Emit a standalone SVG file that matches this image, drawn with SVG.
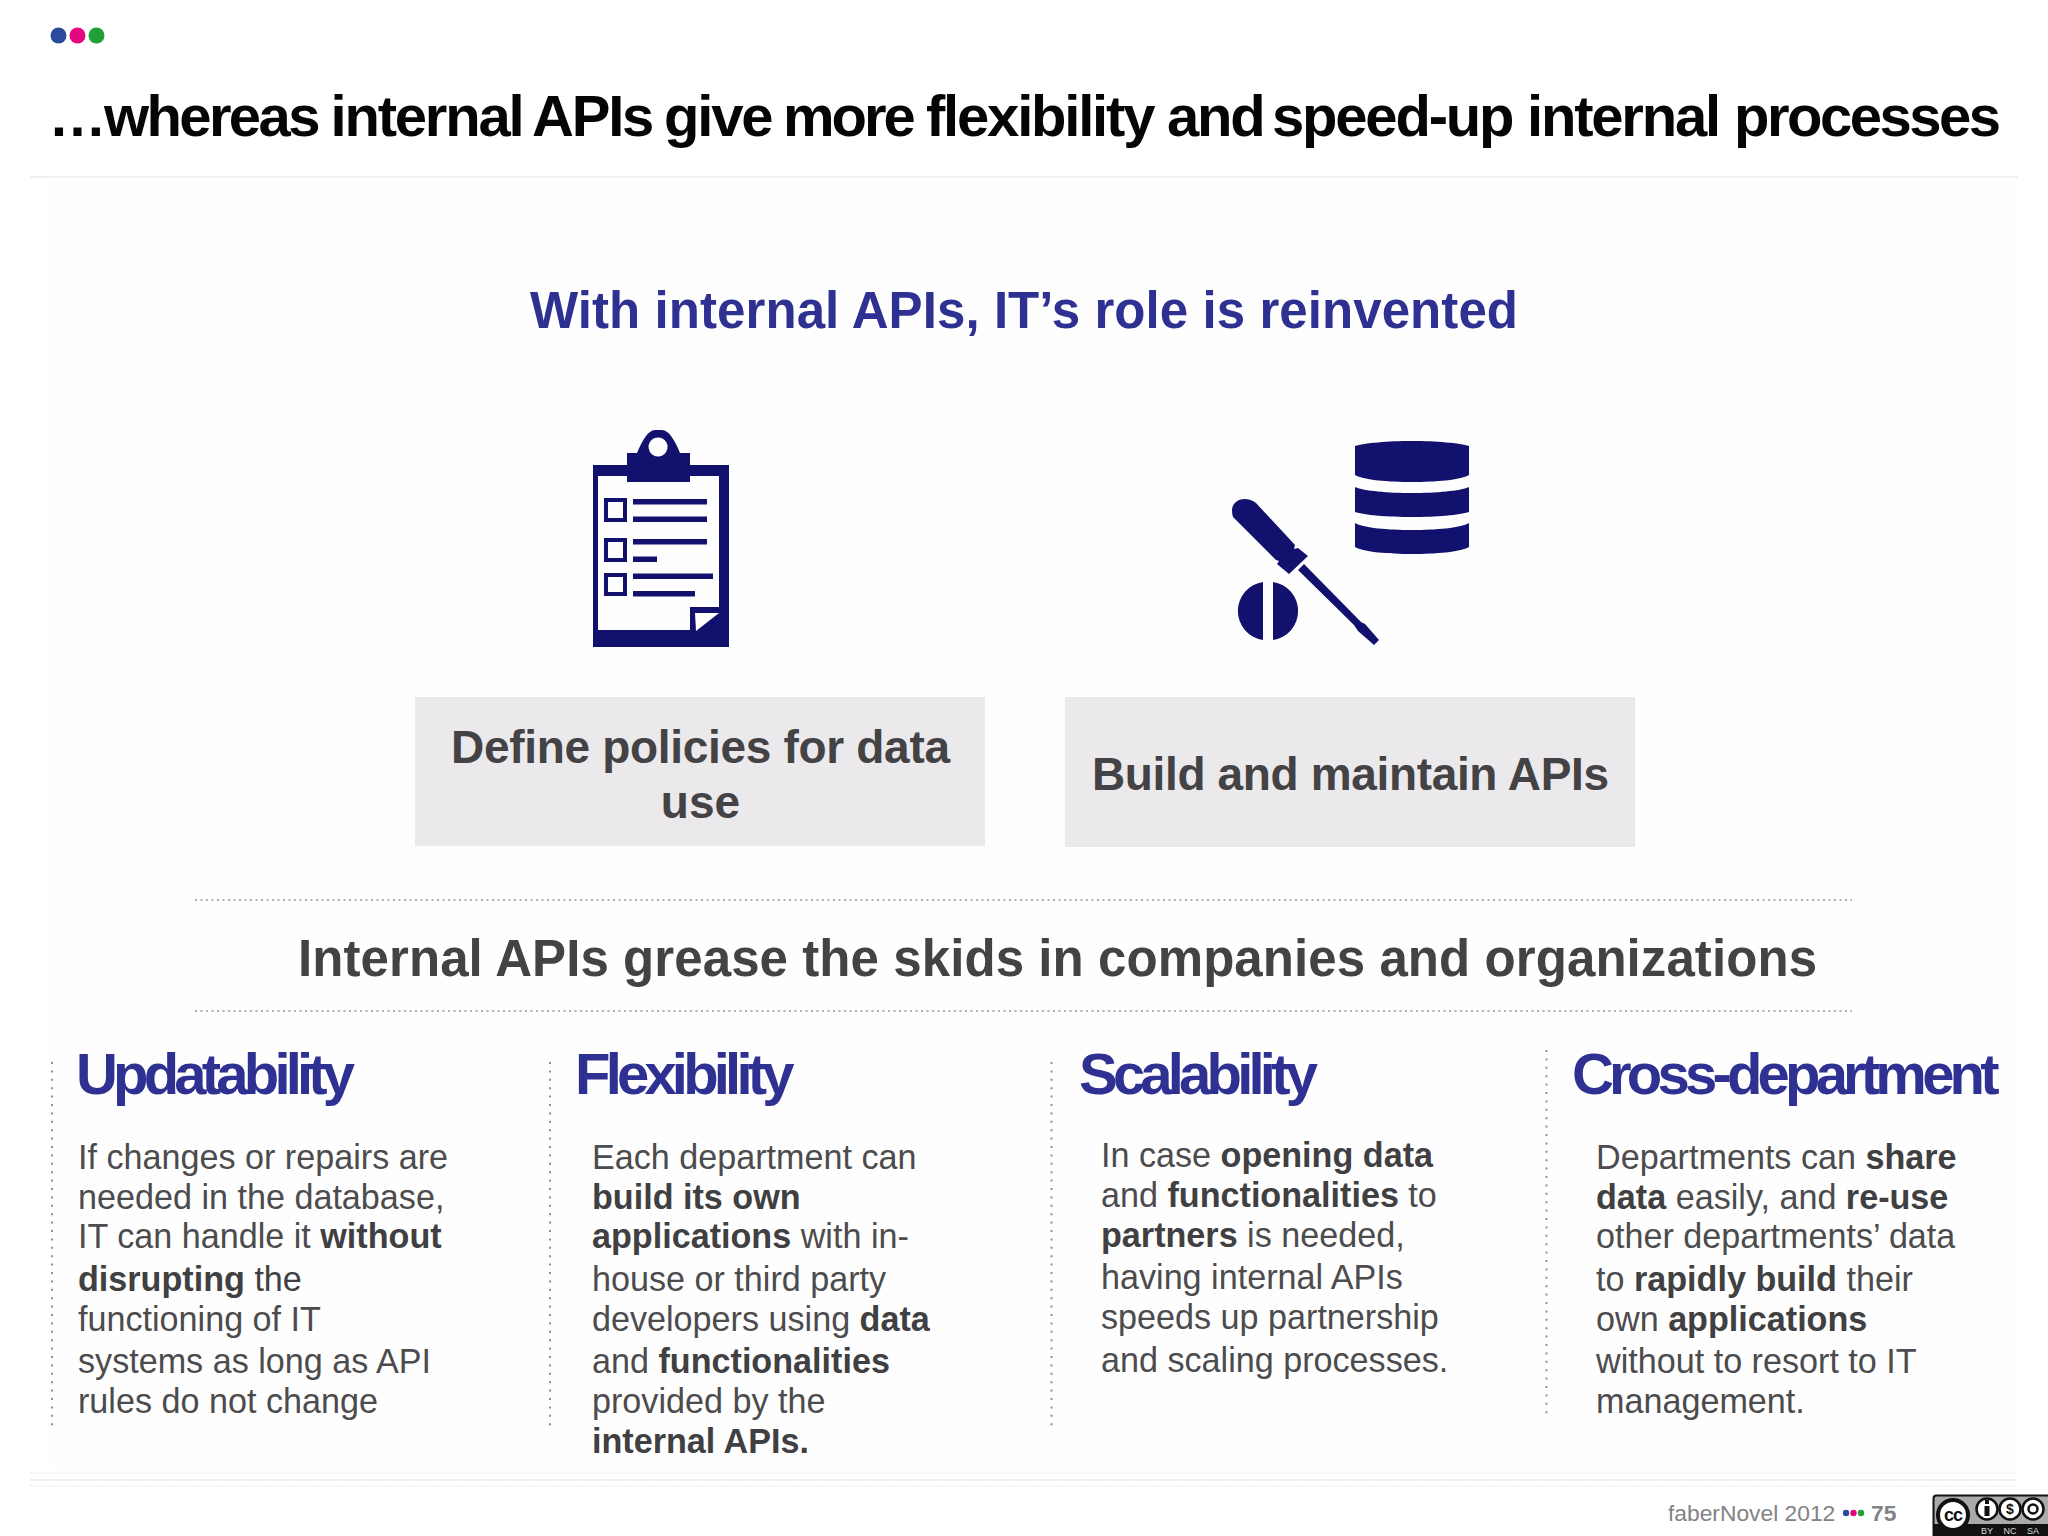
<svg xmlns="http://www.w3.org/2000/svg" width="2048" height="1536" viewBox="0 0 2048 1536">
<style>
text{font-family:"Liberation Sans",Arial,sans-serif}
.b{font-size:34.15px;fill:#4c4b4d}
.b tspan.s{font-weight:700;fill:#403f41}
.h{font-size:58px;font-weight:700;fill:#2e3092;letter-spacing:-4.8px}
.d{stroke:#b0b0b0;stroke-width:2;stroke-dasharray:2 3.500;fill:none}
.v{stroke:#8f8f8f;stroke-width:2;stroke-dasharray:2 6.400;fill:none}
.i{fill:#12126e}
.f{font-size:22.8px;fill:#838285}
</style>
<rect width="2048" height="1536" fill="#fff"/>
<rect x="50" y="180" width="1970" height="1290" fill="#fefefe"/>
<g id="logo"><circle cx="58.500" cy="35.500" r="8" fill="#2a4b9b"/><circle cx="77.500" cy="35.500" r="8" fill="#e4067e"/><circle cx="96.500" cy="35.500" r="8" fill="#21a038"/></g>
<text id="title" x="48.500" y="136" font-size="58" font-weight="700" fill="#050505" letter-spacing="-2.2"><tspan letter-spacing="-2.6">…whereas </tspan><tspan x="330.500">internal </tspan><tspan x="532">APIs </tspan><tspan x="664">give </tspan><tspan x="783" letter-spacing="-3">more </tspan><tspan x="926">flexibility </tspan><tspan x="1167">and </tspan><tspan x="1272">speed-up </tspan><tspan x="1527">internal </tspan><tspan x="1734" letter-spacing="-2.5">processes</tspan></text>
<line x1="30" y1="177" x2="2018" y2="177" stroke="#eeeef0" stroke-width="1.500"/>
<text x="1024" y="328" text-anchor="middle" font-size="51" font-weight="700" fill="#2e3092" textLength="988" lengthAdjust="spacing">With internal APIs, IT’s role is reinvented</text>

<g id="clipboard" class="i">
<path fill-rule="evenodd" d="M593 465h34v-12h10C642 441 648 430 655 430H662C669 430 675 441 680 453h10v12h39v182h-136zM598 476v154h92v-23h29v-131h-29v6h-63v-6zM658 437.500a9.500 9.500 0 1 0 .1 0z"/>
<path d="M695 613H719L696 631z" fill="#fff"/>
<path fill-rule="evenodd" d="M604 498h23v24h-23zM608 502v16h15v-16zM604 538h23v24h-23zM608 542v16h15v-16zM604 573h23v23h-23zM608 577v15h15v-15z"/>
<rect x="633" y="499" width="74" height="5.500"/><rect x="633" y="516.500" width="74" height="5.500"/><rect x="633" y="539" width="74" height="5.500"/><rect x="633" y="556.500" width="24" height="5.500"/><rect x="633" y="573.500" width="80" height="5.500"/><rect x="633" y="591" width="62" height="5.500"/>
</g>

<g id="tools" class="i">
<path d="M1355 446C1364 443 1388 441 1412 441S1460 443 1469 446V475C1460 480 1436 482 1412 482S1364 480 1355 475z"/>
<path d="M1355 487C1364 491 1388 493 1412 493S1460 491 1469 487V512C1460 515 1436 517 1412 517S1364 515 1355 512z"/>
<path d="M1355 523C1364 528 1388 530 1412 530S1460 528 1469 523V547C1460 552 1436 554 1412 554S1364 552 1355 547z"/>
<path d="M1233 517C1231 510 1232 505 1236 502C1240 498 1250 498 1256 503L1295 545L1294 549L1298 548L1308 556L1289 574L1277 564L1279 561L1276 560z"/>
<path d="M1298 570L1304 564L1361 622L1365 624L1379 640L1374 645L1358 631L1354 625z"/>
<path d="M1263 582A29.300 29.300 0 0 0 1263 640zM1273 582A29.300 29.300 0 0 1 1273 640z"/>
</g>

<g id="box1"><rect x="415" y="697" width="570" height="149" fill="#ebe9ec"/>
<text x="700.500" y="763" text-anchor="middle" font-size="46" font-weight="700" fill="#434244" textLength="499" lengthAdjust="spacing">Define policies for data</text>
<text x="700.500" y="818" text-anchor="middle" font-size="46" font-weight="700" fill="#434244">use</text></g>
<g id="box2"><rect x="1065" y="697" width="570" height="150" fill="#ebe9ec"/>
<text x="1350.500" y="790" text-anchor="middle" font-size="46" font-weight="700" fill="#434244" textLength="517" lengthAdjust="spacing">Build and maintain APIs</text></g>

<g id="connectors">
<line class="d" x1="195" y1="900" x2="1852" y2="900"/><line class="d" x1="195" y1="1011" x2="1852" y2="1011"/>
<line class="v" x1="52" y1="1062" x2="52" y2="1430"/><line class="v" x1="550" y1="1062" x2="550" y2="1430"/><line class="v" x1="1051.500" y1="1062" x2="1051.500" y2="1430"/><line class="v" x1="1546.500" y1="1050" x2="1546.500" y2="1417"/>
</g>
<text x="298" y="976" font-size="51" font-weight="700" fill="#434244" textLength="1519" lengthAdjust="spacing">Internal APIs grease the skids in companies and organizations</text>

<g id="col1"><text class="h" x="76" y="1094">Updatability</text>
<text class="b" x="78"><tspan x="78" y="1169">If changes or repairs are</tspan><tspan x="78" y="1209">needed in the database,</tspan><tspan x="78" y="1248">IT can handle it <tspan class="s">without</tspan></tspan><tspan x="78" y="1291" class="s">disrupting <tspan style="font-weight:400">the</tspan></tspan><tspan x="78" y="1331">functioning of IT</tspan><tspan x="78" y="1373">systems as long as API</tspan><tspan x="78" y="1413">rules do not change</tspan></text></g>
<g id="col2"><text class="h" x="575" y="1094">Flexibility</text>
<text class="b"><tspan x="592" y="1169">Each department can</tspan><tspan x="592" y="1209" class="s">build its own</tspan><tspan x="592" y="1248"><tspan class="s">applications</tspan> with in-</tspan><tspan x="592" y="1291">house or third party</tspan><tspan x="592" y="1331">developers using <tspan class="s">data</tspan></tspan><tspan x="592" y="1373">and <tspan class="s">functionalities</tspan></tspan><tspan x="592" y="1413">provided by the</tspan><tspan x="592" y="1453" class="s">internal APIs.</tspan></text></g>
<g id="col3"><text class="h" x="1079" y="1094">Scalability</text>
<text class="b"><tspan x="1101" y="1167">In case <tspan class="s">opening data</tspan></tspan><tspan x="1101" y="1207">and <tspan class="s">functionalities</tspan> to</tspan><tspan x="1101" y="1247"><tspan class="s">partners</tspan> is needed,</tspan><tspan x="1101" y="1289">having internal APIs</tspan><tspan x="1101" y="1329">speeds up partnership</tspan><tspan x="1101" y="1372">and scaling processes.</tspan></text></g>
<g id="col4"><text class="h" x="1572" y="1094">Cross-department</text>
<text class="b"><tspan x="1596" y="1169">Departments can <tspan class="s">share</tspan></tspan><tspan x="1596" y="1209"><tspan class="s">data</tspan> easily, and <tspan class="s">re-use</tspan></tspan><tspan x="1596" y="1248">other departments’ data</tspan><tspan x="1596" y="1291">to <tspan class="s">rapidly build</tspan> their</tspan><tspan x="1596" y="1331">own <tspan class="s">applications</tspan></tspan><tspan x="1596" y="1373">without to resort to IT</tspan><tspan x="1596" y="1413">management.</tspan></text></g>

<g id="footer">
<line x1="30" y1="1473" x2="2016" y2="1473" stroke="#e8e8ea" stroke-width="1" stroke-dasharray="2 1"/>
<line x1="30" y1="1480" x2="2016" y2="1480" stroke="#f1eff2" stroke-width="2"/>
<line x1="30" y1="1486" x2="2016" y2="1486" stroke="#e8e8ea" stroke-width="1" stroke-dasharray="2 1"/>
<text class="f" x="1668" y="1521">faberNovel 2012</text>
<circle cx="1846" cy="1513" r="3.200" fill="#2a4b9b"/><circle cx="1853.500" cy="1513" r="3.200" fill="#e4067e"/><circle cx="1861" cy="1513" r="3.200" fill="#21a038"/>
<text class="f" x="1871" y="1521" font-weight="700">75</text>
<rect x="1933.500" y="1495.500" width="120" height="42" rx="3" fill="#aaa" stroke="#111" stroke-width="2"/>
<rect x="1933" y="1524" width="120" height="14" fill="#111"/>
<circle cx="1953" cy="1515" r="15" fill="#fff" stroke="#111" stroke-width="4"/>
<text x="1953" y="1521" text-anchor="middle" font-size="18" font-weight="700" fill="#111" letter-spacing="-1">cc</text>
<circle cx="1987" cy="1509" r="10.500" fill="#fff" stroke="#111" stroke-width="2.500"/><circle cx="2010" cy="1509" r="10.500" fill="#fff" stroke="#111" stroke-width="2.500"/><circle cx="2033" cy="1509" r="10.500" fill="#fff" stroke="#111" stroke-width="2.500"/>
<path d="M1984.500 1506h5v10h-5zM1985 1500h4v4h-4z" fill="#111"/>
<text x="2010" y="1514" text-anchor="middle" font-size="14" font-weight="700" fill="#111">$</text>
<circle cx="2033" cy="1509" r="4.500" fill="none" stroke="#111" stroke-width="2.500"/>
<text x="1987" y="1534" text-anchor="middle" font-size="9" fill="#ddd">BY</text><text x="2010" y="1534" text-anchor="middle" font-size="9" fill="#ddd">NC</text><text x="2033" y="1534" text-anchor="middle" font-size="9" fill="#ddd">SA</text>
</g>
</svg>
